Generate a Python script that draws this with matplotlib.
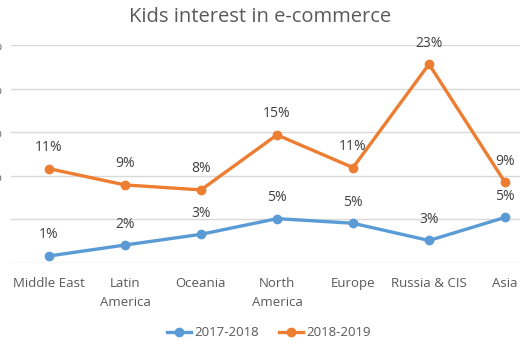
import matplotlib
matplotlib.use("Agg")
import matplotlib.pyplot as plt

categories = ["Middle East", "Latin\nAmerica", "Oceania", "North\nAmerica", "Europe", "Russia & CIS", "Asia"]
series_2017 = [0.77, 2.03, 3.26, 5.06, 4.53, 2.55, 5.2]
series_2018 = [10.8, 8.93, 8.36, 14.68, 10.92, 22.8, 9.24]
labels_2017 = ["1%", "2%", "3%", "5%", "5%", "3%", "5%"]
labels_2018 = ["11%", "9%", "8%", "15%", "11%", "23%", "9%"]
ytick_vals = [0, 5, 10, 15, 20, 25]
ytick_labels = ["", "", "10%", "15%", "20%", "25%"]

plt.rcParams['font.family'] = ['Open Sans', 'DejaVu Sans']

W, H = 520, 360
fig = plt.figure(figsize=(5.2, 3.6), dpi=100)
left = 11 / W
right = 543 / W
bottom = (H - 262.7) / H
top = (H - 45) / H
ax = fig.add_axes([left, bottom, right - left, top - bottom])

blue = "#5B9BD5"
orange = "#ED7D31"
x = list(range(len(categories)))

l1, = ax.plot(x, series_2017, color=blue, lw=2.4, marker='o', ms=6, label="2017-2018", zorder=3)
l2, = ax.plot(x, series_2018, color=orange, lw=2.4, marker='o', ms=6, label="2018-2019", zorder=3)

for xi, v, t in zip(x, series_2017, labels_2017):
    ax.annotate(t, (xi, v), xytext=(0, 21), textcoords='offset pixels', ha='center', va='center',
                fontsize=10, color="#404040")
for xi, v, t in zip(x, series_2018, labels_2018):
    ax.annotate(t, (xi, v), xytext=(0, 21), textcoords='offset pixels', ha='center', va='center',
                fontsize=10, color="#404040")

ax.set_xlim(-0.5, len(categories) - 0.5)
ax.set_ylim(0, 25)
ax.set_yticks(ytick_vals)
ax.set_yticklabels(ytick_labels)
ax.set_xticks(x)
ax.set_xticklabels(categories, fontsize=9.5, color="#595959", linespacing=1.6)
ax.tick_params(axis='x', length=0, pad=10)
ax.tick_params(axis='y', length=0, pad=6, labelsize=9.5, labelcolor="#595959")
ax.grid(axis='y', color="#D9D9D9", lw=1)
ax.set_axisbelow(True)
for s in ax.spines.values():
    s.set_visible(False)

fig.text(260 / W, 1 - 17 / H, "Kids interest in e-commerce", ha='center', va='center',
         fontsize=14.5, color="#595959")

fig.legend(handles=[l1, l2], loc='center', bbox_to_anchor=(269 / W, 1 - 333 / H), ncol=2,
           frameon=False, fontsize=9.5, labelcolor="#595959", handlelength=1.8,
           handletextpad=0.3, columnspacing=1.5)

fig.savefig("out.png", dpi=100)
